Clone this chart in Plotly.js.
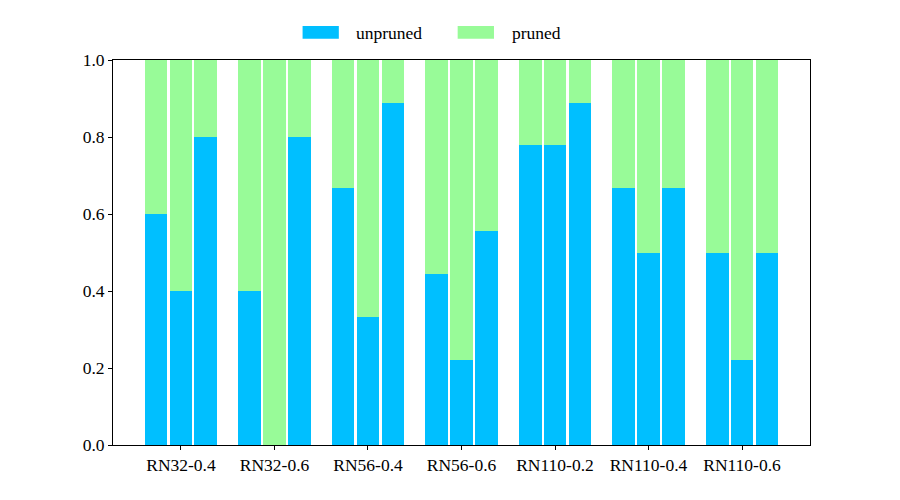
<!DOCTYPE html>
<html>
<head>
<meta charset="utf-8">
<script src="https://cdn.plot.ly/plotly-3.0.1.min.js"></script>
<style>body{margin:0;padding:0;background:#fff;}#chart{width:900px;height:500px;}</style>
</head>
<body>
<div id="chart"></div>
<script>
const categories = ["RN32-0.4", "RN32-0.6", "RN56-0.4", "RN56-0.6", "RN110-0.2", "RN110-0.4", "RN110-0.6"];
// unpruned fraction for the three bars of each group
const unprunedA = [0.6, 0.4, 0.667, 0.444, 0.778, 0.667, 0.5];
const unprunedB = [0.4, 0.0, 0.333, 0.222, 0.778, 0.5, 0.222];
const unprunedC = [0.8, 0.8, 0.889, 0.556, 0.889, 0.667, 0.5];
const seriesNames = ["unpruned", "pruned"];
const colors = {unpruned: "#00BFFF", pruned: "#98FB98"};

const offset = 0.267;
const barWidth = 0.245;
const sets = [unprunedA, unprunedB, unprunedC];
const traces = [];
sets.forEach((vals, k) => {
  const xs = categories.map((_, i) => i + (k - 1) * offset);
  traces.push({type: "bar", x: xs, y: vals, width: barWidth, marker: {color: colors.unpruned, line: {width: 0}}, showlegend: false, hoverinfo: "skip"});
  traces.push({type: "bar", x: xs, y: vals.map(v => 1 - v), width: barWidth, marker: {color: colors.pruned, line: {width: 0}}, showlegend: false, hoverinfo: "skip"});
});

const font = {family: "Liberation Serif", size: 17.5, color: "#000"};
const layout = {
  width: 900, height: 500,
  margin: {l: 113, r: 90, t: 60, b: 55},
  barmode: "stack",
  paper_bgcolor: "#fff", plot_bgcolor: "#fff",
  font: font,
  showlegend: false,
  xaxis: {
    range: [-0.727, 6.727], tickmode: "array",
    tickvals: categories.map((_, i) => i), ticktext: categories,
    showgrid: false, zeroline: false, showline: true, mirror: true,
    linecolor: "#000", linewidth: 1, ticks: "outside", ticklen: 4, tickcolor: "#000",
    tickfont: font
  },
  yaxis: {
    range: [0, 1], tickvals: [0, 0.2, 0.4, 0.6, 0.8, 1.0], tickformat: ".1f",
    showgrid: false, zeroline: false, showline: true, mirror: true,
    linecolor: "#000", linewidth: 1, ticks: "outside", ticklen: 4, tickcolor: "#000",
    tickfont: font
  },
  shapes: [
    {type: "rect", xref: "paper", yref: "paper", x0: 0.272, x1: 0.324, y0: 1.055, y1: 1.088, fillcolor: colors.unpruned, line: {width: 0}},
    {type: "rect", xref: "paper", yref: "paper", x0: 0.4945, x1: 0.5466, y0: 1.055, y1: 1.088, fillcolor: colors.pruned, line: {width: 0}}
  ],
  annotations: [
    {xref: "paper", yref: "paper", x: 0.3457, y: 1.0714, xanchor: "left", yanchor: "middle", text: seriesNames[0], showarrow: false, font: font},
    {xref: "paper", yref: "paper", x: 0.5696, y: 1.0714, xanchor: "left", yanchor: "middle", text: seriesNames[1], showarrow: false, font: font}
  ]
};
Plotly.newPlot("chart", traces, layout, {displayModeBar: false, staticPlot: true});
</script>
</body>
</html>
